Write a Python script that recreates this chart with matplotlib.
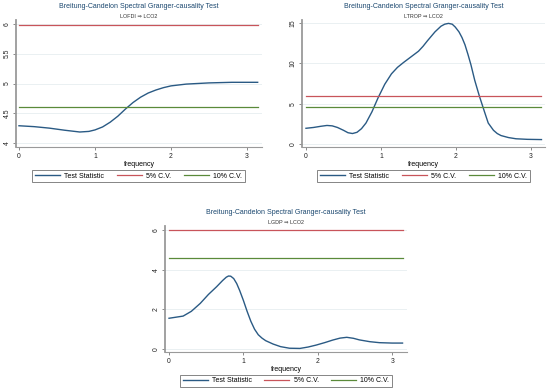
import matplotlib
matplotlib.use("Agg")
import matplotlib.pyplot as plt

plt.rcParams['font.family'] = ['Liberation Sans', 'DejaVu Sans']

# Data
title = 'Breitung-Candelon Spectral Granger-causality Test'
subtitles = ['LOFDI \u21d2 LCO2', 'LTROP \u21d2 LCO2', 'LGDP \u21d2 LCO2']
legend_labels = ['Test Statistic', '5% C.V.', '10% C.V.']

freq_lofdi = [0.0, 0.2, 0.4, 0.6, 0.8, 0.92, 1.0, 1.1, 1.2, 1.3, 1.4, 1.5,
              1.6, 1.7, 1.8, 1.9, 2.0, 2.2, 2.5, 2.8, 3.14]
stat_lofdi = [4.29, 4.275, 4.25, 4.215, 4.185, 4.195, 4.22, 4.27, 4.35,
              4.45, 4.57, 4.68, 4.77, 4.84, 4.89, 4.93, 4.96, 4.99, 5.01,
              5.02, 5.02]

freq_ltrop = [0.0, 0.1, 0.2, 0.28, 0.35, 0.42, 0.5, 0.56, 0.62, 0.68, 0.74,
              0.8, 0.88, 0.96, 1.05, 1.14, 1.22, 1.3, 1.4, 1.5, 1.56, 1.62,
              1.72, 1.8, 1.85, 1.9, 1.95, 1.99, 2.04, 2.08, 2.12, 2.16, 2.2,
              2.25, 2.31, 2.38, 2.43, 2.5, 2.55, 2.6, 2.7, 2.8, 2.95, 3.14]
stat_ltrop = [1.95, 2.05, 2.2, 2.3, 2.25, 2.05, 1.7, 1.4, 1.3, 1.45, 1.9,
              2.6, 4.0, 5.7, 7.4, 8.7, 9.5, 10.1, 10.8, 11.5, 12.1, 12.8,
              13.9, 14.6, 14.85, 14.95, 14.85, 14.5, 13.9, 13.2, 12.3, 11.1,
              9.8, 7.9, 6.0, 4.0, 2.6, 1.7, 1.3, 1.05, 0.8, 0.65, 0.58, 0.55]

freq_lgdp = [0.0, 0.19, 0.3, 0.42, 0.53, 0.64, 0.72, 0.77, 0.8, 0.83, 0.87,
             0.91, 0.95, 1.0, 1.05, 1.1, 1.15, 1.2, 1.25, 1.3, 1.4, 1.5,
             1.62, 1.76, 1.87, 1.98, 2.1, 2.2, 2.3, 2.39, 2.48, 2.56, 2.7,
             2.83, 3.0, 3.14]
stat_lgdp = [1.55, 1.66, 1.9, 2.3, 2.75, 3.14, 3.45, 3.62, 3.68, 3.67, 3.55,
             3.3, 2.95, 2.45, 1.9, 1.4, 1.0, 0.72, 0.55, 0.42, 0.25, 0.12,
             0.04, 0.03, 0.1, 0.2, 0.33, 0.45, 0.55, 0.59, 0.54, 0.46, 0.37,
             0.32, 0.3, 0.3]

cv5 = [5.99, 5.99, 5.99]
cv10 = [4.61, 4.61, 4.61]

yticks = [[4, 4.5, 5, 5.5, 6], [0, 5, 10, 15], [0, 2, 4, 6]]
ytick_labels = [['4', '4.5', '5', '5.5', '6'], ['0', '5', '10', '15'],
                ['0', '2', '4', '6']]
xticks = [0, 1, 2, 3]

navy = '#1a476f'
blue = '#2a5a84'
red = '#c8545a'
green = '#5a8a3a'

W, H = 550, 392
fig = plt.figure(figsize=(5.5, 3.92), dpi=100)

# pixel boxes: left, right, top, bottom ; xlim, ylim ; title y, legend y
panels = [
    dict(box=(16, 262, 20, 147), xlim=(-0.039, 3.197), ylim=(3.933, 6.067),
         ty=7, sy=16, ly=176, lx=(32, 245)),
    dict(box=(302, 545, 20, 147), xlim=(-0.053, 3.187), ylim=(-0.37, 15.37),
         ty=7, sy=16, ly=176, lx=(318, 529)),
    dict(box=(165, 407, 226, 352), xlim=(-0.054, 3.2), ylim=(-0.15, 6.2),
         ty=213, sy=222, ly=381, lx=(182, 390)),
]
series = [(freq_lofdi, stat_lofdi), (freq_ltrop, stat_ltrop),
          (freq_lgdp, stat_lgdp)]

for i, p in enumerate(panels):
    l, r, t, b = p['box']
    ax = fig.add_axes([l / W, 1 - b / H, (r - l) / W, (b - t) / H])
    f, s = series[i]
    h1, = ax.plot(f, s, color=blue, lw=1.0, solid_joinstyle='round')
    h2, = ax.plot([0, 3.14], [cv5[i], cv5[i]], color=red, lw=0.9)
    h3, = ax.plot([0, 3.14], [cv10[i], cv10[i]], color=green, lw=0.9)
    ax.set_xlim(*p['xlim'])
    ax.set_ylim(*p['ylim'])
    ax.set_xticks(xticks)
    ax.set_xticklabels([str(x) for x in xticks], fontsize=4.9)
    ax.set_yticks(yticks[i])
    ax.set_yticklabels(ytick_labels[i], fontsize=4.9, rotation=90, va='center')
    ax.tick_params(length=2.5, width=0.6, color='#777777', pad=1.5,
                   labelcolor='#222222')
    ax.grid(axis='y', color='#e6eef0', lw=0.6)
    ax.set_axisbelow(True)
    for sp in ['top', 'right']:
        ax.spines[sp].set_visible(False)
    ax.spines['left'].set_color('#9a9a9a')
    ax.spines['left'].set_linewidth(1.3)
    ax.spines['bottom'].set_color('#9a9a9a')
    ax.spines['bottom'].set_linewidth(0.8)
    ax.set_xlabel('frequency', fontsize=5.0, labelpad=1.2)

    cx = (l + r) / 2 / W
    fig.text(cx, 1 - p['ty'] / H, title, ha='center', va='center',
             fontsize=5.0, color=navy)
    fig.text(cx, 1 - p['sy'] / H, subtitles[i], ha='center', va='center',
             fontsize=3.9, color='#333333',
             family=['Liberation Sans', 'DejaVu Sans'])

    lcx = (p['lx'][0] + p['lx'][1]) / 2 / W
    leg = ax.legend([h1, h2, h3], legend_labels, loc='center', ncol=3,
                    bbox_to_anchor=(lcx, 1 - p['ly'] / H),
                    bbox_transform=fig.transFigure, fontsize=5.0,
                    frameon=True, fancybox=False, handlelength=3.6,
                    columnspacing=1.8, handletextpad=0.6, borderpad=0.4)
    leg.get_frame().set_edgecolor('#666666')
    leg.get_frame().set_linewidth(0.7)

fig.savefig('out.png', dpi=100, facecolor='white')
